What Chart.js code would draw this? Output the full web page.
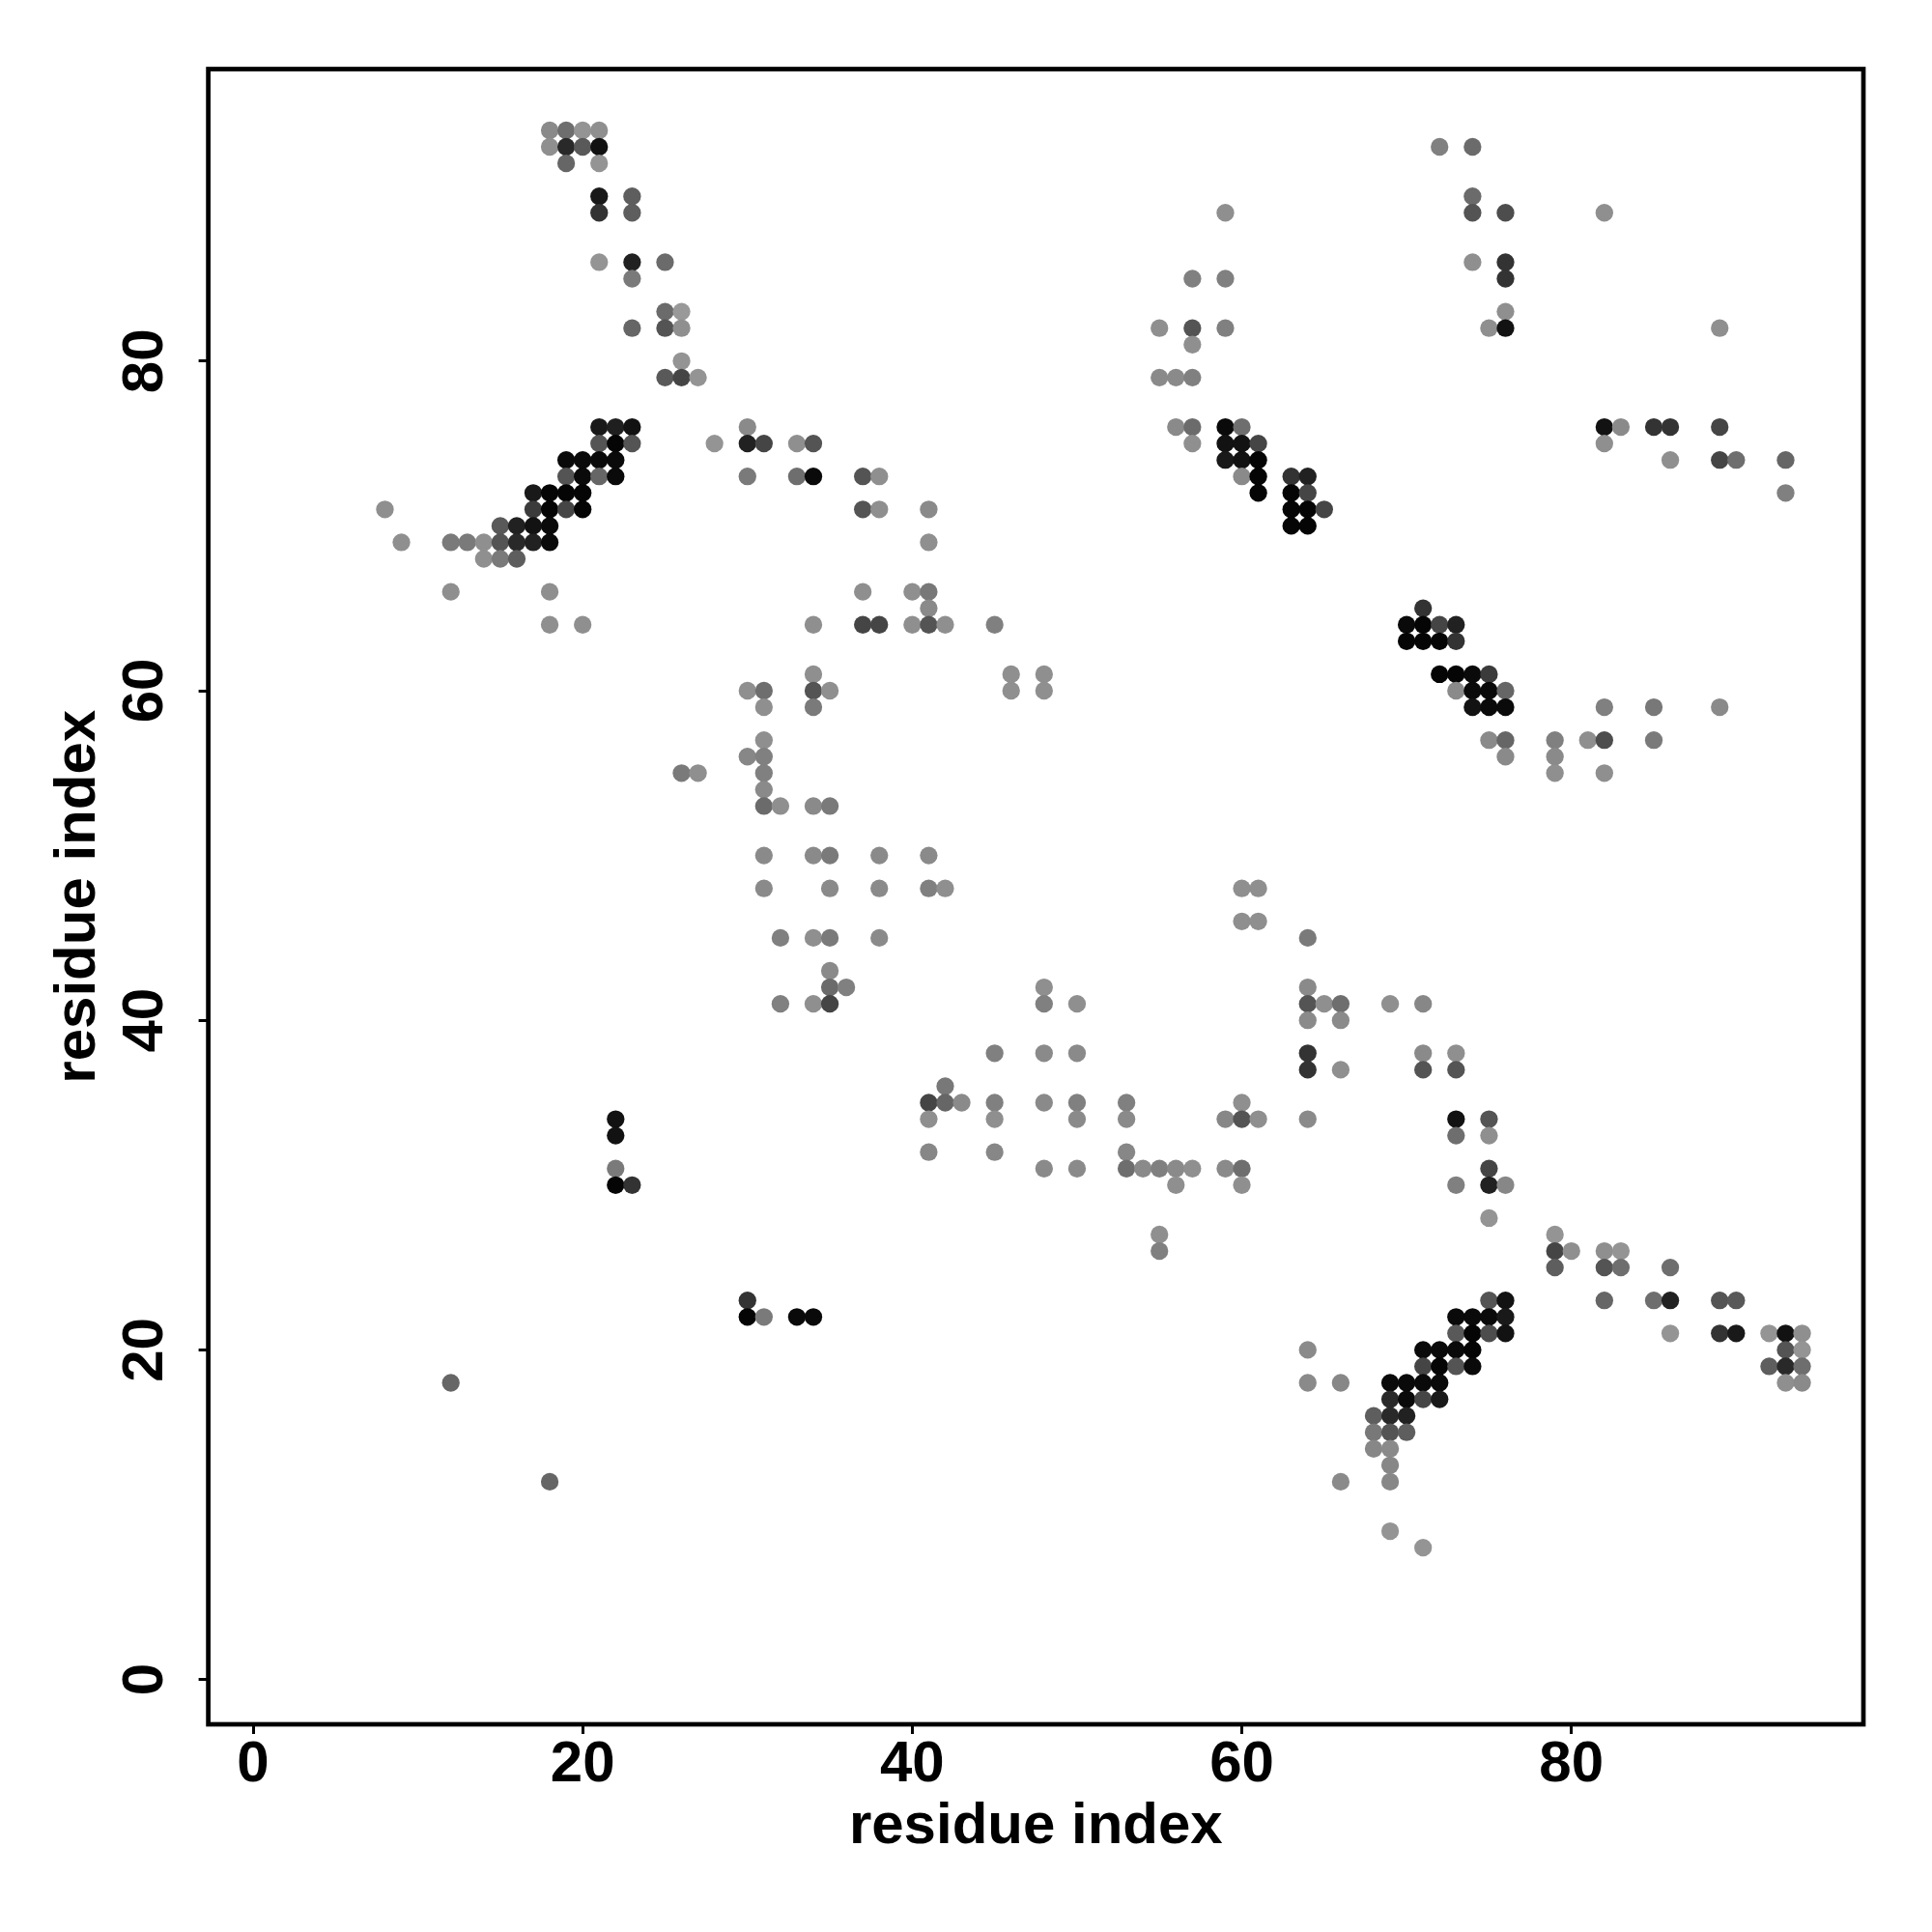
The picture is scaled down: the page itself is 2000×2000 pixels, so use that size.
<!DOCTYPE html>
<html>
<head>
<meta charset="utf-8">
<script src="https://cdn.jsdelivr.net/npm/chart.js@4.4.1/dist/chart.umd.min.js"></script>
<style>
  html, body { margin: 0; padding: 0; background: #ffffff; }
  #wrap { width: 2000px; height: 2000px; }
  canvas { display: block; }
</style>
</head>
<body>
<div id="wrap"><canvas id="c" width="2000" height="2000" style="width:2000px;height:2000px"></canvas></div>
<script>
// ---- data ----
const axisTitle = 'residue index';
const tickValues = [0, 20, 40, 60, 80];
const axisMin = -2.72;
const axisMax = 97.72;

// one entry per row of the contact map (residue index on y)
const rowY = [94, 93, 92, 90, 89, 86, 85, 83, 82, 81, 80, 79, 76, 75, 74, 73, 72, 71, 70, 69, 68, 66, 65, 64, 63, 61, 60, 59, 57, 56, 55, 54, 53, 50, 48, 46, 45, 43, 42, 41, 40, 38, 37, 36, 35, 34, 33, 32, 31, 30, 28, 27, 26, 25, 23, 22, 21, 20, 19, 18, 17, 16, 15, 14, 13, 12, 9, 8];

// partner residue indices (x) in each row
const rowX = [
  [18,19,20,21],
  [18,19,20,21,72,74],
  [19,21],
  [21,23,74],
  [21,23,59,74,76,82],
  [21,23,25,74,76],
  [23,57,59,76],
  [25,26,76],
  [23,25,26,55,57,59,75,76,89],
  [57],
  [26],
  [25,26,27,55,56,57],
  [21,22,23,30,56,57,59,60,82,83,85,86,89],
  [21,22,23,28,30,31,33,34,57,59,60,61,82],
  [19,20,21,22,59,60,61,86,89,90,93],
  [19,20,21,22,30,33,34,37,38,60,61,63,64],
  [17,18,19,20,61,63,64,93],
  [8,17,18,19,20,37,38,41,63,64,65],
  [15,16,17,18,63,64],
  [9,12,13,14,15,16,17,18,41],
  [14,15,16],
  [12,18,37,40,41],
  [41,71],
  [18,20,34,37,38,40,41,42,45,70,71,72,73],
  [70,71,72,73],
  [34,46,48,72,73,74,75],
  [30,31,34,35,46,48,73,74,75,76],
  [31,34,74,75,76,82,85,89],
  [31,75,76,79,81,82,85],
  [30,31,76,79],
  [26,27,31,79,82],
  [31],
  [31,32,34,35],
  [31,34,35,38,41],
  [31,35,38,41,42,60,61],
  [60,61],
  [32,34,35,38,64],
  [35],
  [35,36,48,64],
  [32,34,35,48,50,64,65,66,69,71],
  [64,66],
  [45,48,50,64,71,73],
  [64,66,71,73],
  [42],
  [41,42,43,45,48,50,53,60],
  [22,41,45,50,53,59,60,61,64,73,75],
  [22,73,75],
  [41,45,53],
  [22,48,50,53,54,55,56,57,59,60,75],
  [22,23,56,60,73,75,76],
  [75],
  [55,79],
  [55,79,80,82,83],
  [79,82,83,86],
  [30,75,76,82,85,86,89,90],
  [30,31,33,34,73,74,75,76],
  [73,74,75,76,86,89,90,92,93,94],
  [64,71,72,73,74,93,94],
  [71,72,73,74,92,93,94],
  [12,64,66,69,70,71,72,93,94],
  [69,70,71,72],
  [68,69,70],
  [68,69,70],
  [68,69],
  [69],
  [18,66,69],
  [69],
  [71]
];

// contact score of each point (0 = white, 1 = black)
const rowScore = [
  [.46,.57,.42,.44],
  [.44,.84,.65,.93,.50,.58],
  [.60,.42],
  [.90,.63,.58],
  [.80,.63,.44,.67,.70,.44],
  [.42,.87,.58,.44,.80],
  [.52,.50,.50,.80],
  [.58,.40,.44],
  [.60,.67,.44,.44,.67,.50,.44,.93,.44],
  [.44],
  [.42],
  [.65,.73,.42,.46,.46,.50],
  [.90,.88,.93,.46,.46,.58,.96,.57,.93,.46,.80,.80,.73],
  [.67,.98,.67,.42,.87,.73,.44,.67,.44,.93,.93,.73,.44],
  [.96,.96,.96,.96,.90,.93,.98,.44,.73,.57,.60],
  [.67,.96,.60,.96,.52,.57,.96,.67,.44,.46,.98,.80,.87],
  [.90,.98,.98,.98,.98,.98,.73,.50],
  [.44,.77,.98,.73,.98,.67,.44,.46,.98,.98,.73],
  [.65,.87,.93,.96,.98,.98],
  [.44,.52,.52,.44,.67,.84,.87,.96,.44],
  [.44,.52,.63],
  [.44,.44,.44,.44,.53],
  [.46,.80],
  [.44,.44,.44,.73,.73,.44,.67,.44,.50,.96,.98,.73,.87],
  [.98,.98,.98,.80],
  [.44,.44,.44,.98,.98,.96,.77],
  [.44,.57,.67,.44,.44,.44,.46,.96,.96,.60],
  [.44,.52,.93,.96,.96,.50,.53,.46],
  [.44,.46,.60,.50,.44,.70,.52],
  [.47,.50,.46,.46],
  [.52,.44,.50,.44,.44],
  [.46],
  [.58,.44,.46,.52],
  [.46,.46,.52,.46,.46],
  [.46,.46,.46,.50,.44,.44,.44],
  [.44,.44],
  [.50,.44,.52,.46,.52],
  [.46],
  [.58,.50,.44,.46],
  [.50,.44,.73,.50,.44,.67,.44,.57,.44,.47],
  [.46,.46],
  [.50,.46,.46,.80,.46,.44],
  [.80,.44,.67,.67],
  [.53],
  [.73,.60,.46,.50,.46,.50,.50,.44],
  [.93,.44,.44,.46,.46,.47,.67,.44,.46,.93,.67],
  [.93,.57,.44],
  [.47,.47,.47],
  [.52,.46,.46,.57,.46,.50,.46,.44,.46,.57,.73],
  [.98,.80,.44,.44,.50,.87,.47],
  [.42],
  [.44,.42],
  [.50,.73,.44,.44,.42],
  [.63,.67,.57,.57],
  [.80,.67,.93,.60,.57,.87,.67,.65],
  [.98,.52,.96,.96,.96,.96,.96,.90],
  [.65,.98,.70,.93,.42,.80,.90,.42,.93,.44],
  [.46,.96,.96,.96,.98,.67,.42],
  [.73,.98,.67,.96,.63,.84,.57],
  [.60,.46,.47,.96,.96,.96,.96,.44,.46],
  [.84,.96,.73,.90],
  [.63,.84,.87],
  [.53,.67,.63],
  [.47,.46],
  [.47],
  [.60,.46,.47],
  [.42],
  [.42]
];

// ---- build the dataset from the arrays ----
const points = [];
rowY.forEach((y, r) => {
  rowX[r].forEach((x, k) => {
    points.push({ x: x, y: y, s: rowScore[r][k] });
  });
});

function scoreToGray(s) {
  const v = Math.round(255 * (1 - s));
  return 'rgb(' + v + ',' + v + ',' + v + ')';
}

const FONT_FAMILY = "'Liberation Sans', Arial, Helvetica, sans-serif";
const tickFont = { family: FONT_FAMILY, size: 60, weight: 'bold', lineHeight: 1 };
const titleFont = { family: FONT_FAMILY, size: 60, weight: 'bold', lineHeight: 1 };

const framePlugin = {
  id: 'frame',
  afterDraw(chart) {
    const { ctx, chartArea } = chart;
    ctx.save();
    ctx.strokeStyle = '#000000';
    ctx.lineWidth = 4.7;
    ctx.strokeRect(chartArea.left, chartArea.top, chartArea.right - chartArea.left, chartArea.bottom - chartArea.top);
    ctx.restore();
  }
};

const whiteBg = {
  id: 'whiteBg',
  beforeDraw(chart) {
    const { ctx, width, height } = chart;
    ctx.save();
    ctx.fillStyle = '#ffffff';
    ctx.fillRect(0, 0, width, height);
    ctx.restore();
  }
};

new Chart(document.getElementById('c'), {
  type: 'scatter',
  data: {
    datasets: [{
      data: points,
      pointRadius: 9.15,
      pointHoverRadius: 9.15,
      pointBorderWidth: 0,
      pointStyle: 'circle',
      backgroundColor: (ctx) => ctx.raw ? scoreToGray(ctx.raw.s) : '#000',
      borderColor: 'rgba(0,0,0,0)'
    }]
  },
  options: {
    responsive: false,
    animation: false,
    devicePixelRatio: 1,
    layout: { padding: { left: 0, top: 71.5, right: 71, bottom: 0 } },
    plugins: { legend: { display: false }, tooltip: { enabled: false } },
    scales: {
      x: {
        type: 'linear',
        position: 'bottom',
        min: axisMin,
        max: axisMax,
        afterBuildTicks: (s) => { s.ticks = tickValues.map(v => ({ value: v })); },
        afterFit: (s) => { s.height = 215; },
        grid: { drawOnChartArea: false, drawTicks: true, tickLength: 10, tickWidth: 3, tickColor: '#000000' },
        border: { display: false },
        ticks: { color: '#000000', font: tickFont, padding: 2, minRotation: 0, maxRotation: 0, autoSkip: false },
        title: { display: true, text: axisTitle, color: '#000000', font: titleFont, padding: { top: 0, bottom: 79 } }
      },
      y: {
        type: 'linear',
        position: 'left',
        min: axisMin,
        max: axisMax,
        afterBuildTicks: (s) => { s.ticks = tickValues.map(v => ({ value: v })); },
        afterFit: (s) => { s.width = 215.6; },
        grid: { drawOnChartArea: false, drawTicks: true, tickLength: 10, tickWidth: 3, tickColor: '#000000' },
        border: { display: false },
        ticks: { color: '#000000', font: tickFont, padding: 21, minRotation: 90, maxRotation: 90, crossAlign: 'center', autoSkip: false },
        title: { display: true, text: axisTitle, color: '#000000', font: titleFont, padding: { top: 51, bottom: 0 } }
      }
    }
  },
  plugins: [whiteBg, framePlugin]
});
</script>
</body>
</html>
